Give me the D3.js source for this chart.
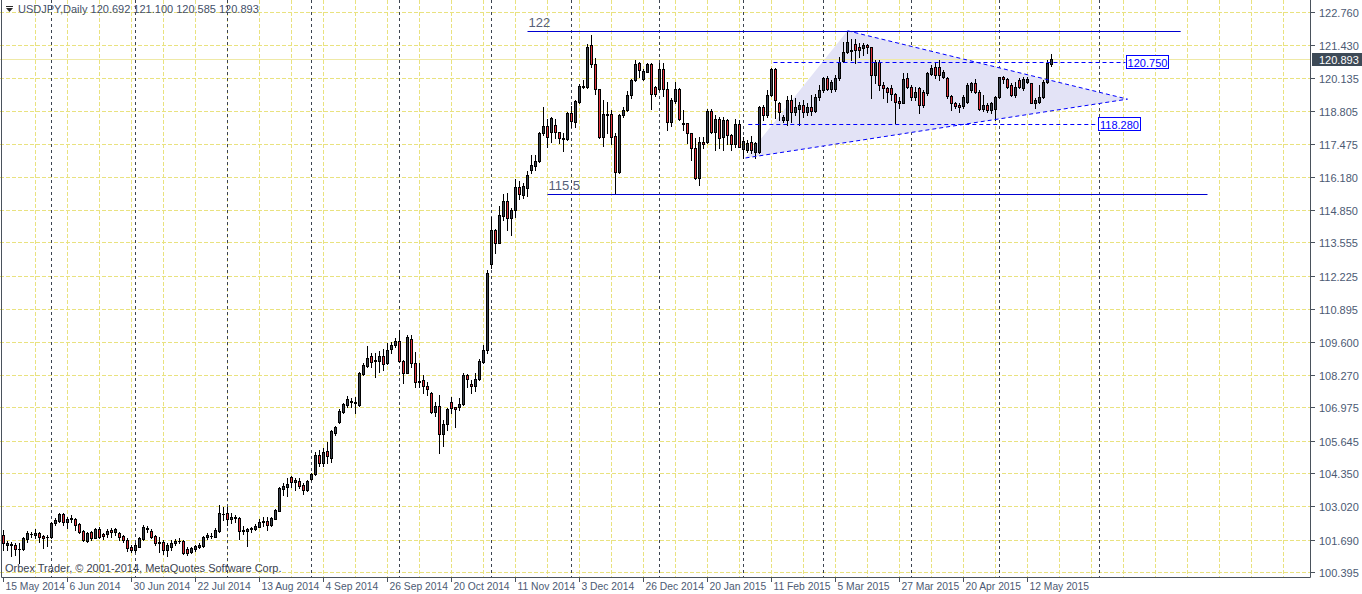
<!DOCTYPE html>
<html>
<head>
<meta charset="utf-8">
<script src="https://cdn.jsdelivr.net/npm/d3@7"></script>
<style>
body { margin: 0; background: #fff; }
svg { display: block; font-family: "Liberation Sans", Arial, sans-serif; }
</style>
</head>
<body>
<script>
// USDJPY daily bars, 15 May 2014 .. 20 May 2015
var openP = [101.87,101.47,101.48,101.47,101.32,101.31,101.70,101.90,101.87,101.97,101.84,101.78,101.81,102.34,102.43,102.71,102.41,102.51,102.51,102.30,
102.03,101.65,102.01,101.77,102.11,101.90,101.90,102.07,101.98,101.94,101.83,101.67,101.41,101.27,101.41,101.70,102.14,102.05,101.85,101.61,
101.61,101.27,101.38,101.54,101.63,101.65,101.30,101.21,101.30,101.41,101.44,101.78,101.83,101.81,102.05,102.73,102.74,102.51,102.58,102.55,
102.05,102.03,102.10,102.13,102.19,102.39,102.43,102.29,102.53,102.84,103.71,103.80,104.20,103.99,104.03,103.87,103.67,104.12,104.30,105.07,
104.74,105.23,104.96,105.96,106.40,106.80,107.07,107.19,107.20,107.07,108.30,108.64,109.02,108.86,108.82,109.02,108.73,109.29,109.46,109.62,
108.84,108.36,109.69,108.76,108.00,108.06,107.82,107.53,106.80,107.03,105.91,106.31,107.17,106.97,106.97,107.10,108.26,107.90,107.82,108.09,
108.80,109.26,112.68,114.05,113.55,114.61,115.21,114.52,114.85,115.78,115.45,115.72,116.45,116.62,116.82,117.94,118.21,117.95,118.25,117.95,
117.70,117.67,118.74,118.38,119.18,119.80,119.78,121.45,120.67,119.67,117.78,118.67,118.67,117.81,116.38,118.65,118.85,119.44,120.04,120.71,
120.07,120.38,120.68,119.78,119.68,120.47,119.67,118.38,119.22,119.67,118.31,118.31,117.91,117.31,116.14,117.55,117.55,118.81,117.95,118.49,
117.75,118.45,117.85,117.47,118.27,117.27,117.25,117.55,117.18,117.18,118.95,118.65,119.44,120.47,119.11,118.45,118.45,119.25,118.78,118.87,
119.05,118.78,118.95,118.82,119.38,119.64,120.11,119.68,119.67,120.11,120.80,121.18,121.24,121.48,121.35,121.31,121.44,121.35,120.24,120.78,
119.84,119.71,119.71,119.48,119.22,119.14,120.11,119.78,119.35,119.71,119.58,119.51,120.28,120.58,120.55,120.18,120.14,119.40,119.11,119.05,
119.01,119.18,119.64,119.91,119.58,118.87,119.05,118.85,118.87,119.35,120.15,120.07,119.84,119.44,120.04,119.71,119.98,119.91,119.14,119.18,
119.35,119.98,120.692];
var highP = [102.07,101.63,101.61,101.54,101.54,101.81,102.03,102.01,102.11,102.01,101.87,101.87,102.38,102.54,102.74,102.74,102.61,102.67,102.54,102.34,
102.07,102.01,102.03,102.14,102.21,101.94,102.11,102.14,102.17,102.01,101.87,101.74,101.47,101.54,101.81,102.27,102.23,102.10,101.87,101.81,
101.67,101.54,101.67,101.70,101.74,101.67,101.38,101.41,101.47,101.54,101.85,101.94,101.94,102.14,103.07,102.98,102.98,102.74,102.67,102.58,
102.23,102.14,102.21,102.31,102.53,102.61,102.61,102.58,102.90,103.80,103.96,104.14,104.23,104.14,104.14,103.94,104.07,104.34,105.20,105.27,
105.33,105.60,106.07,106.23,106.89,107.13,107.42,107.33,107.37,108.40,108.73,109.42,109.13,109.13,109.24,109.29,109.53,109.59,109.73,110.06,
108.86,109.86,109.86,109.20,108.73,108.26,107.99,107.60,107.20,107.46,106.47,106.93,107.40,107.00,107.33,108.33,108.30,108.06,108.33,108.89,
109.46,112.46,114.59,114.08,115.01,115.48,115.55,114.92,116.08,116.02,115.95,116.42,117.05,117.05,117.98,118.95,118.47,118.55,118.50,117.98,
117.91,118.78,119.01,119.25,119.88,120.04,121.50,121.84,120.91,119.70,119.25,119.18,118.85,117.91,118.67,118.98,119.62,120.10,120.84,120.78,
120.47,120.74,120.71,119.82,120.71,120.71,119.98,119.31,119.98,119.71,118.85,118.34,117.94,117.71,117.78,117.75,118.87,118.87,118.65,118.58,
118.58,118.47,117.87,118.47,118.45,117.75,117.65,117.81,117.58,119.01,119.05,119.64,120.51,120.51,119.18,118.65,119.40,119.44,119.31,119.18,
119.25,119.11,119.44,119.48,119.84,120.15,120.20,120.04,120.24,120.98,121.57,122.01,121.70,121.67,121.51,121.51,121.47,121.38,120.84,120.84,
119.98,119.78,119.84,119.54,119.35,120.31,120.34,119.84,119.78,119.78,119.64,120.38,120.64,120.78,120.84,120.44,120.18,119.44,119.18,119.11,
119.44,119.94,119.98,120.07,119.64,119.44,119.11,119.18,119.40,120.18,120.20,120.11,119.91,119.98,120.11,120.18,120.15,119.94,119.31,119.84,
120.04,120.84,121.100];
var lowP = [101.27,101.27,101.03,101.07,100.77,101.27,101.61,101.81,101.77,101.61,101.37,101.45,101.77,102.27,102.38,102.27,102.14,102.38,102.07,101.94,
101.63,101.61,101.67,101.74,101.77,101.71,101.81,101.81,101.87,101.67,101.61,101.25,101.21,101.21,101.38,101.67,102.01,101.74,101.47,101.21,
101.11,101.03,101.27,101.47,101.54,101.11,101.07,101.17,101.25,101.34,101.41,101.70,101.74,101.78,102.01,102.47,102.27,102.34,102.41,101.71,
101.91,101.43,102.01,102.07,102.18,102.23,102.07,102.23,102.50,102.83,103.47,103.43,103.80,103.67,103.74,103.50,103.63,104.07,104.27,104.64,
104.63,104.74,104.80,105.87,106.33,106.76,106.97,106.97,106.76,107.03,108.26,108.60,108.60,108.20,108.40,108.46,108.70,109.13,109.40,108.80,
107.96,108.33,108.60,107.77,107.77,107.53,107.47,106.73,106.63,105.16,105.43,106.07,106.73,106.20,106.86,107.06,107.77,107.56,107.64,108.06,
108.73,109.13,112.52,113.15,113.52,114.45,114.05,113.85,114.59,115.30,115.35,115.41,116.32,116.45,116.78,117.85,117.35,117.58,117.71,117.54,
117.22,117.65,118.18,118.18,119.14,119.71,119.71,120.58,119.50,117.71,117.41,117.91,117.50,115.54,116.34,118.58,118.82,119.31,120.00,120.15,
120.04,120.35,118.87,119.40,119.64,119.40,118.05,118.20,119.11,118.45,118.05,117.54,116.85,116.08,115.85,117.31,117.51,117.91,117.25,117.31,
117.25,117.49,117.25,117.38,117.35,116.92,117.15,117.12,116.92,117.14,118.45,118.58,119.40,118.51,118.45,118.38,118.25,118.38,118.65,118.25,
118.58,118.65,118.65,118.78,119.25,119.58,119.64,119.58,119.62,120.04,120.78,121.14,120.84,120.71,120.98,121.04,121.11,119.31,119.91,119.64,
119.31,119.18,119.25,118.31,118.91,119.11,119.71,119.25,119.25,118.71,118.95,119.44,120.24,120.11,120.04,120.11,119.31,118.85,118.91,118.78,
118.91,119.11,119.58,119.51,118.85,118.82,118.78,118.71,118.45,119.31,119.94,119.71,119.40,119.38,119.71,119.64,119.91,119.11,118.91,119.11,
119.31,119.91,120.585];
var closeP = [101.54,101.57,101.51,101.30,101.30,101.74,101.97,101.93,101.94,101.81,101.74,101.81,102.34,102.47,102.71,102.38,102.51,102.54,102.27,102.01,
101.67,101.94,101.74,102.11,101.81,101.85,102.03,101.98,102.10,101.81,101.67,101.34,101.27,101.47,101.74,102.18,102.10,101.81,101.54,101.57,
101.27,101.47,101.54,101.63,101.65,101.14,101.14,101.34,101.44,101.47,101.81,101.87,101.85,102.07,102.74,102.70,102.51,102.60,102.55,102.05,
102.07,102.10,102.17,102.23,102.39,102.45,102.29,102.55,102.87,103.74,103.83,103.91,104.00,104.07,103.84,103.67,104.03,104.30,105.07,104.74,
105.20,105.03,106.03,106.19,106.84,107.11,107.30,107.22,107.13,108.36,108.66,108.93,108.80,108.81,109.02,108.70,109.26,109.46,109.62,108.84,
108.36,109.77,108.76,108.00,108.04,107.82,107.69,106.80,107.03,105.91,106.31,106.89,106.93,106.92,107.10,108.26,108.09,107.82,108.09,108.82,
109.26,112.32,114.05,113.55,114.65,115.21,114.52,114.85,115.76,115.48,115.81,116.25,116.65,116.81,117.94,118.21,117.75,118.51,117.95,117.71,
117.73,118.71,118.39,119.21,119.80,119.75,121.38,120.67,119.67,117.78,118.67,118.63,117.78,116.38,118.65,118.85,119.44,120.04,120.68,120.44,
120.42,120.68,119.48,119.48,120.47,119.67,118.38,119.25,119.67,118.49,118.29,117.91,117.31,116.14,117.58,117.49,118.81,117.95,118.49,117.74,
118.45,117.85,117.49,118.27,117.38,117.61,117.51,117.25,117.51,118.95,118.65,119.44,120.47,119.25,118.78,118.58,119.25,118.78,118.95,119.05,
118.78,118.95,118.82,119.38,119.64,120.11,119.68,119.98,120.11,120.78,121.18,121.57,121.20,121.24,121.24,121.44,121.35,120.24,120.78,119.84,
119.71,119.58,119.48,119.18,119.14,120.07,119.78,119.38,119.58,119.05,119.05,120.31,120.51,120.24,120.24,120.38,119.40,119.11,119.01,118.95,
119.38,119.84,119.91,119.58,118.87,119.05,118.85,119.14,119.35,120.15,120.07,119.78,119.44,119.78,119.78,120.07,120.07,119.14,119.25,119.35,
119.98,120.71,120.893];

var dateTickLabels = ["15 May 2014","6 Jun 2014","30 Jun 2014","22 Jul 2014","13 Aug 2014","4 Sep 2014","26 Sep 2014","20 Oct 2014",
  "11 Nov 2014","3 Dec 2014","26 Dec 2014","20 Jan 2015","11 Feb 2015","5 Mar 2015","27 Mar 2015","20 Apr 2015","12 May 2015"];
var priceTicks = [122.760,121.430,120.135,118.805,117.475,116.180,114.850,113.555,112.225,110.895,109.600,108.270,106.975,105.645,104.350,103.020,101.690,100.395];
var noBarDays = ["2014-12-25","2015-01-01"];

// objects drawn on the chart (bar index, price)
var levelLines = [{price: 122, from: 131, to: 294.3, label: "122"}, {price: 115.5, from: 136, to: 301, label: "115.5"}];
var dashLevels = [{price: 120.750, from: 192.5, to: 280.5}, {price: 118.280, from: 186.2, to: 273.5}];
var trianglePts = [[185.5, 116.93], [211, 122.01], [281, 119.28]];

var symbolTitle = "USDJPY,Daily";
var copyright = "Orbex Trader, \u00a9 2001-2014, MetaQuotes Software Corp.";

var W = 1362, H = 594;
var plotRight = 1310, plotBottom = 577;

var svg = d3.select("body").append("svg").attr("width", W).attr("height", H);
svg.append("rect").attr("width", W).attr("height", H).attr("fill", "#fff");

// trading calendar: weekdays for the real bars, then plain days in the empty future part
var dates = [];
var key = d3.timeFormat("%Y-%m-%d");
var day = new Date(2014, 4, 15);
while (dates.length < closeP.length) {
  var wd = day.getDay();
  if (wd != 0 && wd != 6 && noBarDays.indexOf(key(day)) < 0) dates.push(new Date(day));
  day = d3.timeDay.offset(day, 1);
}
var nBars = closeP.length;
while (dates.length < 330) {
  dates.push(d3.timeDay.offset(dates[dates.length - 1], 1));
}

var x = d3.scaleLinear().domain([0, 1]).range([3.5, 7.5]);
var y = d3.scaleLinear().domain([100.395, 122.760]).range([572, 12]);
function py(p) { return Math.round(y(p)) + 0.5; }

svg.append("clipPath").attr("id", "plot").append("rect")
  .attr("x", 0).attr("y", 0).attr("width", plotRight).attr("height", plotBottom);
var g = svg.append("g").attr("clip-path", "url(#plot)");

// grid
var gridCol = "#e9e27f";
priceTicks.forEach(function(p) {
  g.append("line").attr("x1", 0).attr("x2", plotRight).attr("y1", py(p)).attr("y2", py(p))
    .attr("stroke", gridCol).attr("stroke-dasharray", "4,2");
});
for (var k = 1; x(k * 8) < plotRight; k++) {
  g.append("line").attr("x1", x(k * 8)).attr("x2", x(k * 8)).attr("y1", 0).attr("y2", plotBottom)
    .attr("stroke", gridCol).attr("stroke-dasharray", "4,2");
}

// month separators (up to the first month after the last bar)
var lastMonth = dates[nBars - 1].getFullYear() * 12 + dates[nBars - 1].getMonth();
for (var i = 1; i < dates.length && x(i) < plotRight; i++) {
  var m = dates[i].getFullYear() * 12 + dates[i].getMonth();
  if (dates[i].getMonth() != dates[i - 1].getMonth() && m <= lastMonth + 1) {
    g.append("line").attr("x1", x(i)).attr("x2", x(i)).attr("y1", 0).attr("y2", plotBottom)
      .attr("stroke", "#3c4450").attr("stroke-dasharray", "3,3");
  }
}

// triangle fill
g.append("path")
  .attr("d", "M" + trianglePts.map(function(t) { return x(t[0]) + "," + y(t[1]); }).join("L") + "Z")
  .attr("fill", "#e3e3f6").attr("stroke", "none");

// bid line
var last = closeP[nBars - 1];
g.append("line").attr("x1", 0).attr("x2", plotRight).attr("y1", py(last)).attr("y2", py(last))
  .attr("stroke", "#efe9a6");

// candles
var bars = d3.range(nBars);
g.selectAll(".wick").data(bars).enter().append("line")
  .attr("x1", function(i) { return x(i); }).attr("x2", function(i) { return x(i); })
  .attr("y1", function(i) { return Math.round(y(highP[i])); })
  .attr("y2", function(i) { return Math.round(y(lowP[i])) + 1; })
  .attr("stroke", "#000");
g.selectAll(".body").data(bars).enter().append("rect")
  .attr("x", function(i) { return x(i) - 1; })
  .attr("width", 2)
  .attr("y", function(i) { return py(Math.max(openP[i], closeP[i])); })
  .attr("height", function(i) { return Math.max(py(Math.min(openP[i], closeP[i])) - py(Math.max(openP[i], closeP[i])), 0.01); })
  .attr("fill", function(i) { return closeP[i] >= openP[i] ? "#39404a" : "#e0323c"; })
  .attr("stroke", "#000");

// trend lines of the triangle
g.append("line").attr("x1", x(trianglePts[1][0])).attr("y1", y(trianglePts[1][1]))
  .attr("x2", x(trianglePts[2][0])).attr("y2", y(trianglePts[2][1]))
  .attr("stroke", "#0000ff").attr("stroke-dasharray", "4,3");
g.append("line").attr("x1", x(trianglePts[0][0])).attr("y1", y(trianglePts[0][1]))
  .attr("x2", x(trianglePts[2][0])).attr("y2", y(trianglePts[2][1]))
  .attr("stroke", "#0000ff").attr("stroke-dasharray", "4,3");

// horizontal levels
levelLines.forEach(function(l) {
  g.append("line").attr("x1", x(l.from)).attr("x2", x(l.to)).attr("y1", py(l.price)).attr("y2", py(l.price))
    .attr("stroke", "#0000d0");
  g.append("text").attr("x", x(l.from) + 1).attr("y", py(l.price) - 5)
    .attr("font-size", 13).attr("fill", "#56607a").text(l.label);
});
dashLevels.forEach(function(l) {
  g.append("line").attr("x1", x(l.from)).attr("x2", x(l.to)).attr("y1", py(l.price)).attr("y2", py(l.price))
    .attr("stroke", "#0000ff").attr("stroke-dasharray", "4,3");
  var bx = Math.round(x(l.to)) + 0.5;
  g.append("rect").attr("x", bx).attr("y", py(l.price) - 7).attr("width", 42).attr("height", 13)
    .attr("fill", "#fff").attr("stroke", "#0000ff");
  g.append("text").attr("x", bx + 21).attr("y", py(l.price) + 4).attr("text-anchor", "middle")
    .attr("font-size", 11).attr("fill", "#0000ff").text(d3.format(".3f")(l.price));
});

// frame
svg.append("path").attr("d", "M1.5,0V" + (plotBottom + 0.5) + "H" + (plotRight + 0.5) + "V0")
  .attr("fill", "none").attr("stroke", "#4a525c");

// price axis
var axisText = "#4c5a73";
priceTicks.forEach(function(p) {
  svg.append("line").attr("x1", plotRight + 1).attr("x2", plotRight + 5).attr("y1", py(p)).attr("y2", py(p))
    .attr("stroke", "#4a525c");
  svg.append("text").attr("x", plotRight + 9).attr("y", py(p) + 4).attr("font-size", 11)
    .attr("fill", axisText).text(d3.format(".3f")(p));
});
svg.append("rect").attr("x", plotRight + 2).attr("y", py(last) - 6.5).attr("width", 50).attr("height", 13)
  .attr("fill", "#3d4a57");
svg.append("text").attr("x", plotRight + 9).attr("y", py(last) + 4).attr("font-size", 11)
  .attr("fill", "#fff").text(d3.format(".3f")(last));

// date axis
var fmtDate = d3.timeFormat("%-d %b %Y");
dateTickLabels.forEach(function(lbl) {
  var idx = -1;
  for (var j = 0; j < nBars; j++) if (fmtDate(dates[j]) == lbl) { idx = j; break; }
  if (idx < 0) return;
  var tx = Math.round(x(idx)) - 0.5;
  svg.append("line").attr("x1", tx).attr("x2", tx).attr("y1", plotBottom + 1).attr("y2", plotBottom + 5)
    .attr("stroke", "#4a525c");
  svg.append("text").attr("x", Math.max(tx + 2, 3)).attr("y", plotBottom + 13).attr("font-size", 10.3)
    .attr("fill", axisText).text(lbl);
});

// title
svg.append("path").attr("d", "M6,8H13L9.5,12Z").attr("fill", "#2a2a2a");
svg.append("line").attr("x1", 6).attr("x2", 13).attr("y1", 6.5).attr("y2", 6.5).attr("stroke", "#2a2a2a");
svg.append("text").attr("x", 18).attr("y", 13).attr("font-size", 11).attr("fill", "#44506a")
  .text(symbolTitle + "  " + [openP[nBars - 1], highP[nBars - 1], lowP[nBars - 1], closeP[nBars - 1]].map(d3.format(".3f")).join(" "));

svg.append("text").attr("x", 5).attr("y", 572).attr("font-size", 11).attr("fill", "#3a4250").text(copyright);
</script>
</body>
</html>
